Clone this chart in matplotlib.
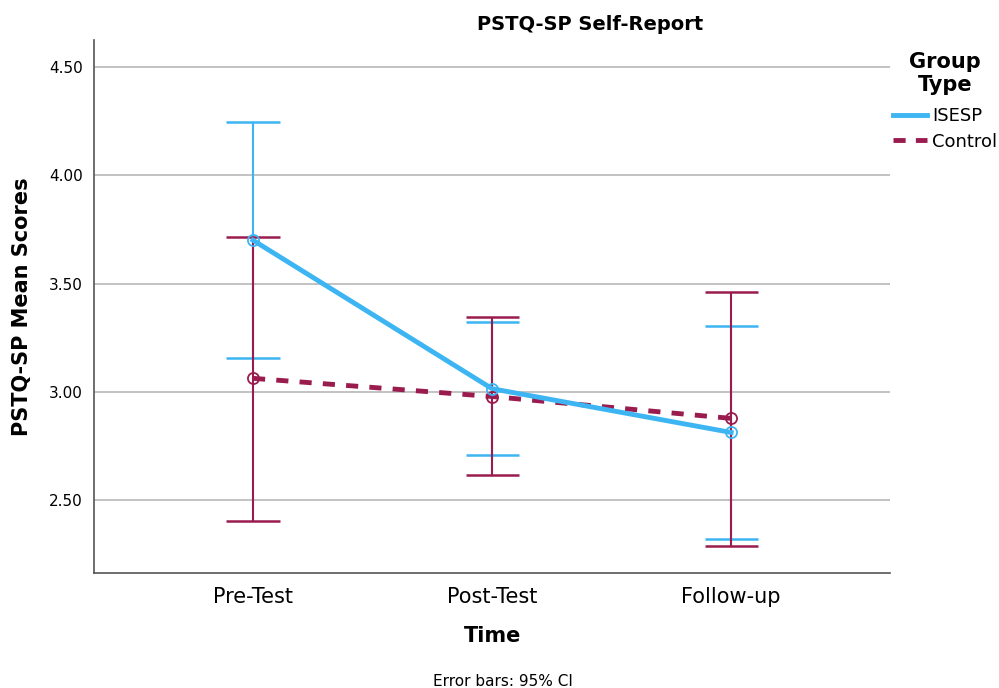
import matplotlib
matplotlib.use("Agg")
import matplotlib.pyplot as plt
from matplotlib.lines import Line2D

categories = ["Pre-Test", "Post-Test", "Follow-up"]
isesp_mean = [3.70, 3.014, 2.812]
isesp_low = [3.154, 2.709, 2.321]
isesp_high = [4.248, 3.320, 3.305]
control_mean = [3.062, 2.978, 2.877]
control_low = [2.403, 2.614, 2.287]
control_high = [3.715, 3.345, 3.463]
yticks = [2.50, 3.00, 3.50, 4.00, 4.50]

c_isesp = "#3DB5F2"
c_ctrl = "#9A1C4E"

fig = plt.figure(figsize=(9.99, 6.88), dpi=100)
ax = fig.add_axes([0.0941, 0.1672, 0.797, 0.7747])
x = list(range(len(categories)))
cap = 0.111

for g, (m, lo, hi, col) in enumerate([(isesp_mean, isesp_low, isesp_high, c_isesp),
                                       (control_mean, control_low, control_high, c_ctrl)]):
    ax.vlines(x, lo, hi, color=col, lw=1.5, zorder=3 + g)
    ax.hlines(lo, [xi - cap for xi in x], [xi + cap for xi in x], color=col, lw=1.8, zorder=3 + g)
    ax.hlines(hi, [xi - cap for xi in x], [xi + cap for xi in x], color=col, lw=1.8, zorder=3 + g)

ax.plot(x, control_mean, color=c_ctrl, lw=3.5, ls=(0, (2.5, 2.3)), zorder=5)
ax.plot(x, isesp_mean, color=c_isesp, lw=3.5, zorder=6)
ax.plot(x, control_mean, ls="none", marker="o", ms=8, mfc="none", mec=c_ctrl, mew=1.3, zorder=7)
ax.plot(x, isesp_mean, ls="none", marker="o", ms=8, mfc="none", mec=c_isesp, mew=1.3, zorder=7)

ax.set_xlim(-0.665, 2.665)
ax.set_ylim(2.163, 4.625)
ax.set_yticks(yticks)
ax.set_yticklabels([f"{v:.2f}" for v in yticks], fontsize=11)
ax.set_xticks(x)
ax.set_xticklabels(categories, fontsize=15)
ax.tick_params(axis="both", length=0, pad=8)
ax.tick_params(axis="x", pad=10)
ax.yaxis.grid(True, color="#BDBDBD", lw=1.3)
ax.set_axisbelow(True)
for s in ["top", "right"]:
    ax.spines[s].set_visible(False)
for s in ["left", "bottom"]:
    ax.spines[s].set_color("#555555")
    ax.spines[s].set_linewidth(1.2)

ax.set_xlabel("Time", fontsize=15, fontweight="bold", labelpad=14)
ax.set_ylabel("PSTQ-SP Mean Scores", fontsize=15, fontweight="bold", labelpad=12)

fig.text(590 / 999, 1 - 25 / 688, "PSTQ-SP Self-Report", ha="center", va="center",
         fontsize=14, fontweight="bold")
fig.text(503 / 999, 1 - 681 / 688, "Error bars: 95% CI", ha="center", va="center", fontsize=11)

fig.text(945 / 999, 1 - 62 / 688, "Group", ha="center", va="center", fontsize=15, fontweight="bold")
fig.text(945 / 999, 1 - 85 / 688, "Type", ha="center", va="center", fontsize=15, fontweight="bold")

handles = [Line2D([], [], color=c_isesp, lw=3.5),
           Line2D([], [], color=c_ctrl, lw=3.5, ls=(0, (2.5, 2.1)))]
leg = fig.legend(handles, ["ISESP", "Control"],
                 loc="upper left", bbox_to_anchor=(893 / 999, 1 - 107 / 688),
                 frameon=False, fontsize=13, handlelength=1.9, handletextpad=0.28,
                 borderaxespad=0, borderpad=0, labelspacing=0.42)

fig.savefig("out.png", dpi=100)
